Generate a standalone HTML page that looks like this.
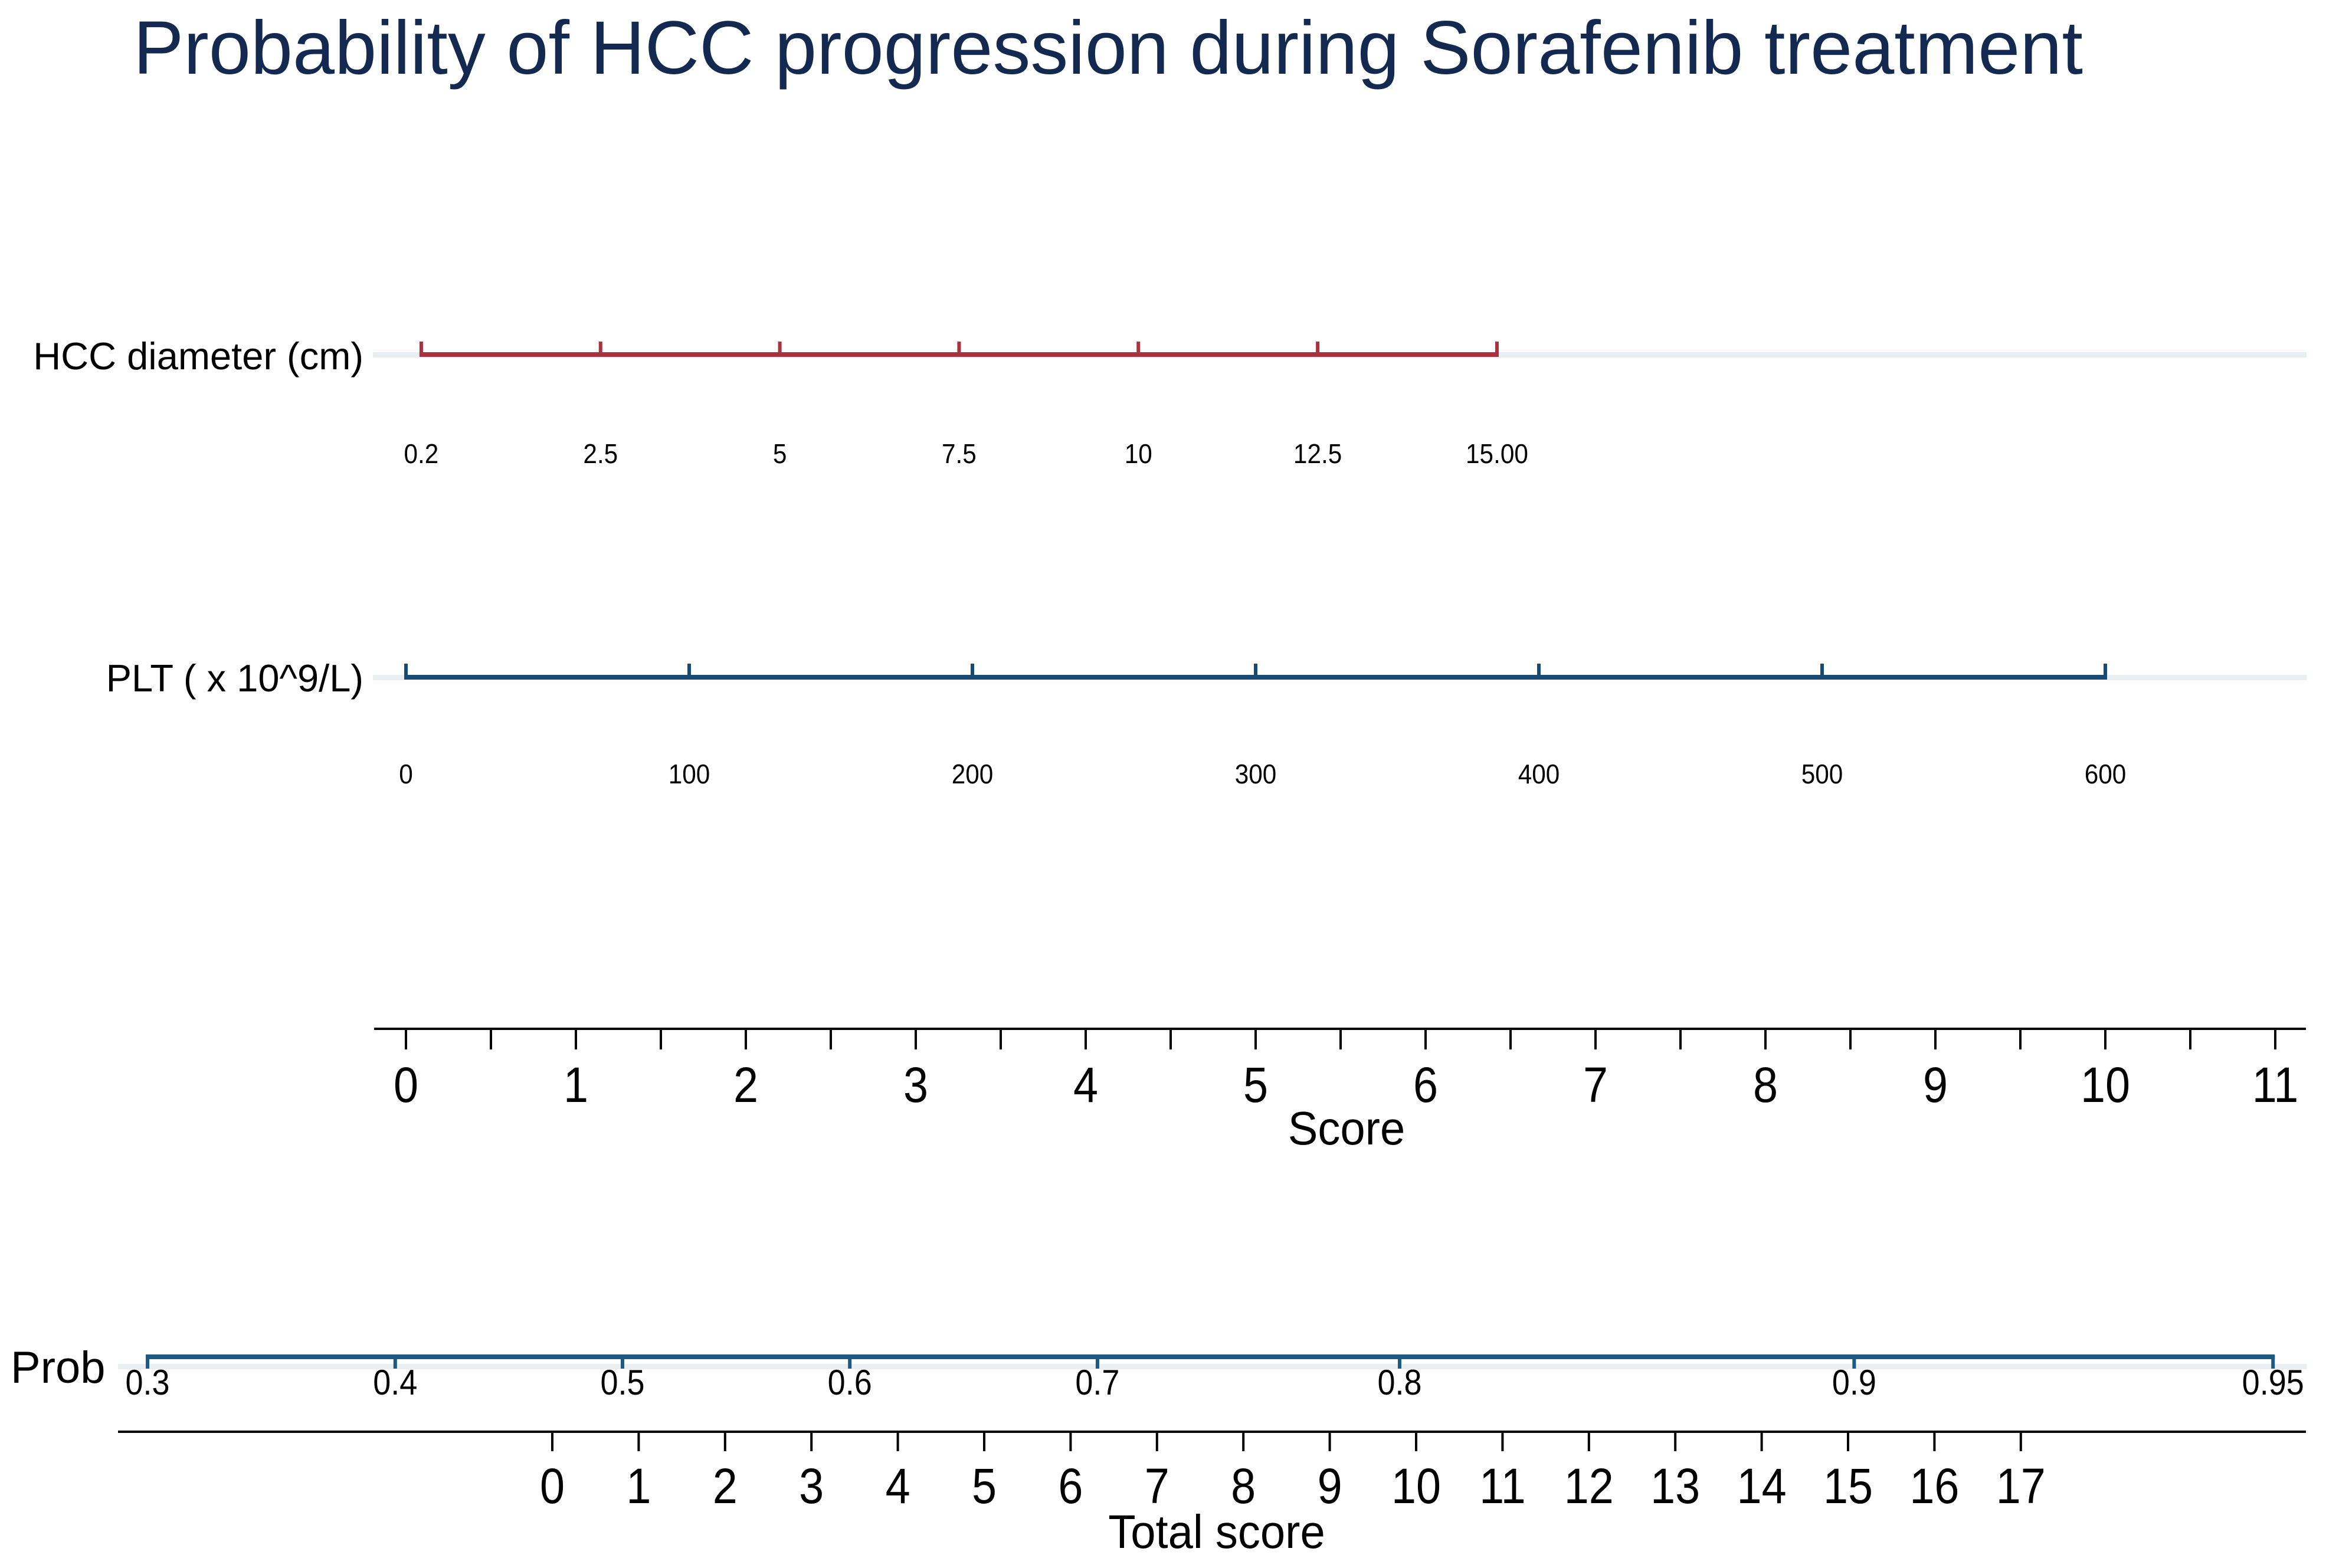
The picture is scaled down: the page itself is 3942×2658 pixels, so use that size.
<!DOCTYPE html>
<html><head><meta charset="utf-8"><style>
html,body{margin:0;padding:0;background:#fff;}
svg{display:block;font-family:"Liberation Sans",Arial,sans-serif;}
</style></head><body>
<svg id="chart" width="3942" height="2658" viewBox="0 0 3942 2658" xmlns="http://www.w3.org/2000/svg">
<text x="226" y="125" font-size="128" fill="#13294f" textLength="3304" lengthAdjust="spacingAndGlyphs">Probability of HCC progression during Sorafenib treatment</text>
</svg>
<script>
const hccLabels = ["0.2","2.5","5","7.5","10","12.5","15.00"];
const hccPoints = [0.09,1.145,2.2,3.255,4.31,5.365,6.42];
const pltValues = [0,100,200,300,400,500,600];
const pltPointsPerUnit = 1/60;
const scoreTicks = [0,1,2,3,4,5,6,7,8,9,10,11];
const totalTicks = [0,1,2,3,4,5,6,7,8,9,10,11,12,13,14,15,16,17];
const probValues = [0.3,0.4,0.5,0.6,0.7,0.8,0.9,0.95];
const probLabels = ["0.3","0.4","0.5","0.6","0.7","0.8","0.9","0.95"];

const NS = "http://www.w3.org/2000/svg";
const svg = document.getElementById('chart');
const xScore = p => 688 + p * 288;
const xTotal = t => 936 + t * 146.4;
const xProb = p => 1055 + Math.log(p / (1 - p)) * 950;

function mk(tag, attrs, parent) {
  const e = document.createElementNS(NS, tag);
  for (const k in attrs) e.setAttribute(k, attrs[k]);
  (parent || svg).appendChild(e);
  return e;
}
function txt(x, y, s, size, anchor, fill, sx) {
  const t = mk('text', {x: sx ? x / sx : x, y: y, 'font-size': size, 'text-anchor': anchor || 'middle', fill: fill || '#000'});
  if (sx) t.setAttribute('transform', 'scale(' + sx + ',1)');
  t.textContent = s;
  return t;
}

// HCC diameter row
let t = txt(616, 626, 'HCC diameter (cm)', 65, 'end');


let g = mk('rect', {x: 632, y: 597, width: 3277, height: 9, fill: '#e9eff1'});


const hccCol = '#a8323e';
let l = mk('line', {x1: xScore(hccPoints[0]) - 3, y1: 601, x2: xScore(hccPoints[hccPoints.length - 1]) + 3, y2: 601, stroke: hccCol, 'stroke-width': 8});


hccPoints.forEach((p, i) => {
  const x = xScore(p);
  const tk = mk('line', {x1: x, y1: 579, x2: x, y2: 604, stroke: hccCol, 'stroke-width': 6});
  
  
  const lb = txt(x, 785, hccLabels[i], 46, 'middle', '#000', 0.92);
  
  
});

// PLT row
t = txt(616, 1172, 'PLT ( x 10^9/L)', 65, 'end');


g = mk('rect', {x: 632, y: 1144, width: 3277, height: 9, fill: '#e9eff1'});


const pltCol = '#164a73';
l = mk('line', {x1: xScore(pltValues[0] * pltPointsPerUnit) - 3, y1: 1148, x2: xScore(pltValues[pltValues.length - 1] * pltPointsPerUnit) + 3, y2: 1148, stroke: pltCol, 'stroke-width': 8});


pltValues.forEach(v => {
  const x = xScore(v * pltPointsPerUnit);
  const tk = mk('line', {x1: x, y1: 1125, x2: x, y2: 1151, stroke: pltCol, 'stroke-width': 6});
  
  
  const lb = txt(x, 1328, String(v), 46, 'middle', '#000', 0.92);
  
  
});

// Score axis
l = mk('line', {x1: 634, y1: 1744, x2: 3908, y2: 1744, stroke: '#000', 'stroke-width': 4});


for (let i = 0; i < scoreTicks.length; i++) {
  const s = scoreTicks[i];
  const x = xScore(s);
  const tk = mk('line', {x1: x, y1: 1744, x2: x, y2: 1779, stroke: '#000', 'stroke-width': 4});
  
  
  const lb = txt(x, 1868, String(s), 84, 'middle', '#000', 0.9);
  
  
  if (i < scoreTicks.length - 1) {
    const xm = xScore((s + scoreTicks[i + 1]) / 2);
    const mt = mk('line', {x1: xm, y1: 1744, x2: xm, y2: 1779, stroke: '#000', 'stroke-width': 4});
    
    
  }
}
t = txt(2282, 1940, 'Score', 80, 'middle', '#000', 0.95);



// Prob row
t = txt(18, 2344, 'Prob', 76, 'start');


g = mk('rect', {x: 200, y: 2312, width: 3709, height: 9, fill: '#e9eff1'});


const probCol = '#1d5a82';
l = mk('line', {x1: xProb(probValues[0]) - 3, y1: 2300, x2: xProb(probValues[probValues.length - 1]) + 3, y2: 2300, stroke: probCol, 'stroke-width': 8});


probValues.forEach((p, i) => {
  const x = xProb(p);
  const tk = mk('line', {x1: x, y1: 2297, x2: x, y2: 2320, stroke: probCol, 'stroke-width': 6});
  
  
  const lb = txt(x, 2364, probLabels[i], 60, 'middle', '#000', 0.9);
  
  
});

// Total score axis
l = mk('line', {x1: 200, y1: 2427, x2: 3908, y2: 2427, stroke: '#000', 'stroke-width': 4});


totalTicks.forEach(s => {
  const x = xTotal(s);
  const tk = mk('line', {x1: x, y1: 2427, x2: x, y2: 2460, stroke: '#000', 'stroke-width': 4});
  
  
  const lb = txt(x, 2548, String(s), 84, 'middle', '#000', 0.9);
  
  
});
t = txt(2062, 2624, 'Total score', 80, 'middle', '#000', 0.95);


</script>
</body></html>
